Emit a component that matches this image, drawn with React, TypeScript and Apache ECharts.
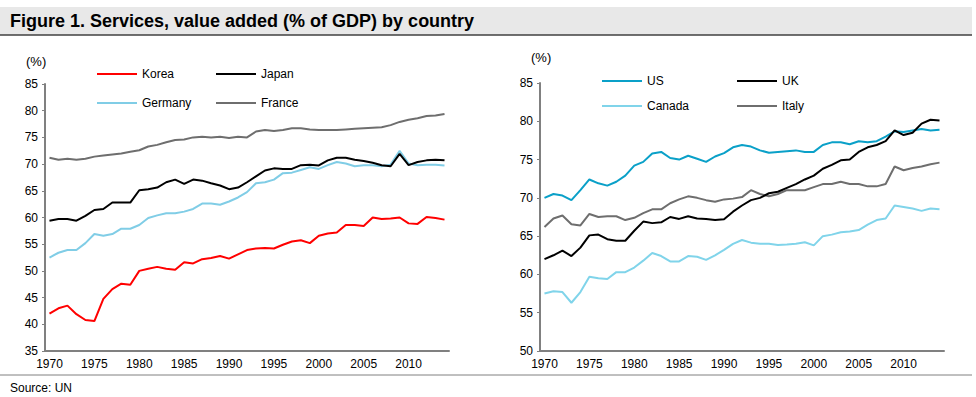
import React, { useEffect, useRef } from "react";
import * as echarts from "echarts";

const years: string[] = [];
for (let y = 1970; y <= 2014; y++) years.push(String(y));

const korea = [42.0, 43.0, 43.5, 41.9, 40.8, 40.6, 44.75, 46.6, 47.6, 47.4, 50.0, 50.4, 50.75, 50.4, 50.2, 51.6, 51.4, 52.2, 52.4, 52.8, 52.3, 53.1, 53.9, 54.2, 54.3, 54.2, 54.9, 55.5, 55.75, 55.2, 56.6, 57.0, 57.2, 58.6, 58.6, 58.4, 60.0, 59.7, 59.8, 60.0, 58.9, 58.8, 60.1, 59.9, 59.6];
const japan = [59.4, 59.7, 59.7, 59.4, 60.3, 61.4, 61.6, 62.8, 62.8, 62.8, 65.1, 65.3, 65.6, 66.6, 67.1, 66.3, 67.1, 66.9, 66.4, 66.0, 65.3, 65.6, 66.6, 67.7, 68.8, 69.2, 69.1, 69.1, 69.8, 69.9, 69.75, 70.7, 71.2, 71.2, 70.8, 70.6, 70.25, 69.8, 69.6, 71.9, 69.8, 70.4, 70.7, 70.8, 70.7];
const germany = [52.5, 53.4, 53.9, 53.9, 55.2, 56.9, 56.6, 56.9, 57.9, 57.9, 58.6, 59.9, 60.4, 60.8, 60.8, 61.1, 61.6, 62.6, 62.6, 62.4, 63.0, 63.75, 64.75, 66.4, 66.6, 67.1, 68.3, 68.4, 68.9, 69.4, 69.1, 69.8, 70.4, 70.1, 69.6, 69.8, 69.8, 69.6, 69.9, 72.5, 70.1, 69.8, 69.9, 69.9, 69.75];
const france = [71.2, 70.8, 71.0, 70.8, 71.0, 71.4, 71.6, 71.8, 72.0, 72.3, 72.6, 73.3, 73.6, 74.1, 74.5, 74.6, 75.0, 75.1, 75.0, 75.1, 74.9, 75.1, 75.0, 76.1, 76.4, 76.2, 76.4, 76.7, 76.7, 76.5, 76.4, 76.4, 76.4, 76.5, 76.6, 76.7, 76.8, 76.9, 77.3, 77.9, 78.3, 78.6, 79.0, 79.1, 79.4];

const us = [70.0, 70.5, 70.3, 69.7, 71.0, 72.4, 71.9, 71.6, 72.1, 72.9, 74.2, 74.7, 75.8, 76.0, 75.2, 75.0, 75.5, 75.1, 74.7, 75.4, 75.85, 76.6, 76.9, 76.7, 76.2, 75.9, 76.0, 76.1, 76.2, 76.0, 76.0, 76.9, 77.25, 77.25, 77.0, 77.4, 77.25, 77.4, 78.0, 78.7, 78.6, 78.8, 79.0, 78.8, 78.9];
const uk = [62.0, 62.5, 63.1, 62.4, 63.5, 65.1, 65.2, 64.6, 64.4, 64.4, 65.7, 66.9, 66.7, 66.8, 67.5, 67.25, 67.6, 67.3, 67.25, 67.1, 67.2, 68.2, 69.0, 69.7, 70.0, 70.6, 70.8, 71.3, 71.8, 72.4, 72.9, 73.8, 74.3, 74.9, 75.0, 76.0, 76.6, 76.9, 77.4, 78.8, 78.2, 78.5, 79.7, 80.2, 80.1];
const italy = [66.2, 67.3, 67.7, 66.55, 66.4, 67.9, 67.5, 67.6, 67.6, 67.1, 67.4, 68.0, 68.5, 68.5, 69.3, 69.8, 70.2, 70.0, 69.7, 69.5, 69.8, 69.9, 70.1, 71.0, 70.5, 70.2, 70.5, 71.0, 71.0, 71.0, 71.4, 71.8, 71.8, 72.1, 71.8, 71.8, 71.5, 71.5, 71.8, 74.1, 73.6, 73.9, 74.1, 74.4, 74.6];
const canada = [57.5, 57.8, 57.7, 56.3, 57.7, 59.7, 59.5, 59.4, 60.3, 60.3, 60.9, 61.8, 62.8, 62.4, 61.7, 61.7, 62.4, 62.3, 61.9, 62.5, 63.2, 64.0, 64.5, 64.15, 64.0, 64.0, 63.85, 63.9, 64.0, 64.2, 63.8, 65.0, 65.2, 65.5, 65.6, 65.8, 66.5, 67.1, 67.3, 69.0, 68.8, 68.6, 68.3, 68.6, 68.5];

const FONT = "'Liberation Sans', Arial, sans-serif";

export default function App() {
  const ref = useRef<HTMLDivElement>(null);
  useEffect(() => {
    document.body.style.margin = "0";
    const chart = echarts.init(ref.current!, null, { renderer: "svg" });

    const xAxisBase = (gridIndex: number) => ({
      type: "category" as const,
      gridIndex,
      data: years,
      boundaryGap: true,
      axisLine: { lineStyle: { color: "#808080", width: 2 } },
      axisTick: {
        inside: true,
        length: 4,
        interval: 0,
        alignWithLabel: false,
        lineStyle: { color: "#000", width: 1 },
      },
      axisLabel: {
        interval: 4,
        color: "#000",
        fontSize: 12,
        fontFamily: FONT,
        margin: 7,
      },
      splitLine: { show: false },
    });
    const yAxisBase = (gridIndex: number, min: number) => ({
      type: "value" as const,
      gridIndex,
      min,
      max: 85,
      interval: 5,
      axisLine: { show: true, lineStyle: { color: "#808080", width: 2 } },
      axisTick: { show: true, inside: false, length: 3, lineStyle: { color: "#808080", width: 1 } },
      axisLabel: { color: "#000", fontSize: 12, fontFamily: FONT, margin: 7 },
      splitLine: { show: false },
    });

    const line = (name: string, data: number[], color: string, idx: number) => ({
      name,
      type: "line" as const,
      data,
      xAxisIndex: idx,
      yAxisIndex: idx,
      symbol: "none",
      showSymbol: false,
      lineStyle: { color, width: 2 },
      itemStyle: { color },
    });

    const leg = (name: string, left: number, top: number) => ({
      data: [name],
      left,
      top: top - 6,
      padding: 0,
      itemWidth: 40,
      itemHeight: 2,
      icon: "rect",
      itemGap: 0,
      selectedMode: false,
      textStyle: { color: "#000", fontSize: 12, fontFamily: FONT, padding: [0, 0, 0, 0] },
    });

    chart.setOption({
      animation: false,
      backgroundColor: "#fff",
      grid: [
        { left: 45, top: 84, width: 404, height: 267, containLabel: false },
        { left: 540, top: 83, width: 404, height: 268, containLabel: false },
      ],
      xAxis: [xAxisBase(0), xAxisBase(1)],
      yAxis: [yAxisBase(0, 35), yAxisBase(1, 50)],
      legend: [
        leg("Korea", 97, 74),
        leg("Japan", 216, 74),
        leg("Germany", 97, 103),
        leg("France", 216, 103),
        leg("US", 602, 81),
        leg("UK", 737, 81),
        leg("Canada", 602, 106),
        leg("Italy", 737, 106),
      ],
      series: [
        line("France", france, "#6e6e6e", 0),
        line("Germany", germany, "#80cde6", 0),
        line("Japan", japan, "#000000", 0),
        line("Korea", korea, "#ff0000", 0),
        line("Canada", canada, "#80d4ea", 1),
        line("Italy", italy, "#6e6e6e", 1),
        line("US", us, "#0aa0c8", 1),
        line("UK", uk, "#000000", 1),
      ],
      graphic: [
        { type: "rect", shape: { x: 0, y: 7, width: 972, height: 28 }, style: { fill: "#e8e8e8" }, silent: true },
        { type: "line", shape: { x1: 0, y1: 35, x2: 972, y2: 35 }, style: { stroke: "#404040", lineWidth: 1.5 }, silent: true },
        {
          type: "text",
          left: 10,
          top: 12,
          style: {
            text: "Figure 1. Services, value added (% of GDP) by country",
            fill: "#000",
            font: `bold 18px ${FONT}`,
          },
        },
        { type: "text", left: 26, top: 55, style: { text: "(%)", fill: "#000", font: `13px ${FONT}` } },
        { type: "text", left: 531, top: 51, style: { text: "(%)", fill: "#000", font: `13px ${FONT}` } },
        { type: "line", shape: { x1: 0, y1: 375, x2: 972, y2: 375 }, style: { stroke: "#808080", lineWidth: 1 }, silent: true },
        { type: "text", left: 10, top: 382, style: { text: "Source: UN", fill: "#000", font: `12px ${FONT}` } },
      ],
    });
    return () => chart.dispose();
  }, []);
  return <div ref={ref} style={{ width: 976, height: 397 }} />;
}
